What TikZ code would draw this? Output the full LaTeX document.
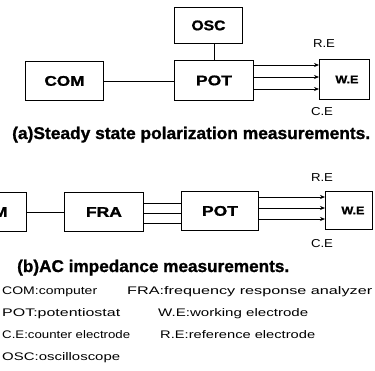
\documentclass[tikz,border=0pt]{standalone}
\usepackage{fontspec}
\setmainfont{Liberation Sans}[BoldFeatures={FakeBold=1.2}]
\usetikzlibrary{arrows.meta}
\newcommand\wfit[2]{\resizebox{#1}{\height}{#2}}
\begin{document}
\begin{tikzpicture}[x=1pt,y=-1pt,
  blk/.style={draw, line width=0.9pt, inner sep=0pt, anchor=north west,
    font=\fontsize{14}{14}\selectfont\bfseries},
  ln/.style={line width=0.7pt},
  arr/.style={line width=0.7pt, -{Stealth[length=5pt,width=4pt]}},
  elab/.style={inner sep=0pt, font=\fontsize{11.5}{11.5}\selectfont},
  captxt/.style={anchor=base west, inner sep=0pt, font=\fontsize{17}{17}\selectfont\bfseries},
  leg/.style={anchor=base west, inner sep=0pt, font=\fontsize{11}{11}\selectfont}]
\useasboundingbox (0,0) rectangle (375,370);
\clip (0,0) rectangle (375,370);
% ---------- (a) ----------
\node[blk, minimum width=78pt, minimum height=39pt] (comA) at (25,61) {\wfit{40pt}{COM}};
\node[blk, minimum width=79pt, minimum height=40pt] (potA) at (174,60) {\wfit{36pt}{POT}};
\node[blk, minimum width=68pt, minimum height=36pt] (osc) at (174,7) {\wfit{34pt}{OSC}};
\node[blk, minimum width=50pt, minimum height=40pt, font=\fontsize{11}{11}\selectfont\bfseries] (weA) at (319,59) {\hspace*{5pt}\wfit{23pt}{W.E}};
\draw[ln] (comA.east) -- (comA.east -| potA.west);
\draw[ln] (potA.north) -- (potA.north |- osc.south);
\coordinate (a1) at ([yshift=-5pt]potA.north east);
\coordinate (a2) at ([yshift=-17pt]potA.north east);
\coordinate (a3) at ([yshift=-29pt]potA.north east);
\draw[arr] (a1) -- (a1 -| weA.west);
\draw[arr] (a2) -- (a2 -| weA.west);
\draw[arr] (a3) -- (a3 -| weA.west);
\node[elab] (reA) at (324,44) {\wfit{22pt}{R.E}};
\node[elab] (ceA) at (322,112) {\wfit{22pt}{C.E}};
\node[captxt] (capA) at (12,139) {\wfit{358pt}{(a)Steady state polarization measurements.}};
% ---------- (b) ----------
\node[blk, minimum width=78pt, minimum height=39pt] (comB) at (-52,192) {\wfit{40pt}{COM}};
\node[blk, minimum width=79pt, minimum height=39pt] (fra) at (64,192) {\wfit{36pt}{FRA}};
\node[blk, minimum width=77pt, minimum height=39pt] (potB) at (181,191) {\wfit{36pt}{POT}};
\node[blk, minimum width=47pt, minimum height=38pt, font=\fontsize{11}{11}\selectfont\bfseries] (weB) at (325,191) {\hspace*{8pt}\wfit{23pt}{W.E}};
\draw[ln] (comB.east) -- (comB.east -| fra.west);
\coordinate (f1) at ([yshift=-11pt]fra.north east);
\coordinate (f2) at ([yshift=-21pt]fra.north east);
\coordinate (f3) at ([yshift=-31pt]fra.north east);
\draw[ln] (f1) -- (f1 -| potB.west);
\draw[ln] (f2) -- (f2 -| potB.west);
\draw[ln] (f3) -- (f3 -| potB.west);
\coordinate (b1) at ([yshift=-6pt]potB.north east);
\coordinate (b2) at ([yshift=-17pt]potB.north east);
\coordinate (b3) at ([yshift=-28pt]potB.north east);
\draw[arr] (b1) -- (b1 -| weB.west);
\draw[arr] (b2) -- (b2 -| weB.west);
\draw[arr] (b3) -- (b3 -| weB.west);
\node[elab] (reB) at (322,178) {\wfit{22pt}{R.E}};
\node[elab] (ceB) at (322,244) {\wfit{22pt}{C.E}};
\node[captxt] (capB) at (17,272) {\wfit{272pt}{(b)AC impedance measurements.}};
% ---------- legend ----------
\node[leg] (l1) at (2,294) {\wfit{95pt}{COM:computer}};
\node[leg] (l2) at (127,294) {\wfit{245pt}{FRA:frequency response analyzer}};
\node[leg] (l3) at (2,316) {\wfit{118pt}{POT:potentiostat}};
\node[leg] (l4) at (158,316) {\wfit{150pt}{W.E:working electrode}};
\node[leg] (l5) at (2,338) {\wfit{128pt}{C.E:counter electrode}};
\node[leg] (l6) at (160,338) {\wfit{155pt}{R.E:reference electrode}};
\node[leg] (l7) at (2,360) {\wfit{118pt}{OSC:oscilloscope}};
\end{tikzpicture}
\end{document}
